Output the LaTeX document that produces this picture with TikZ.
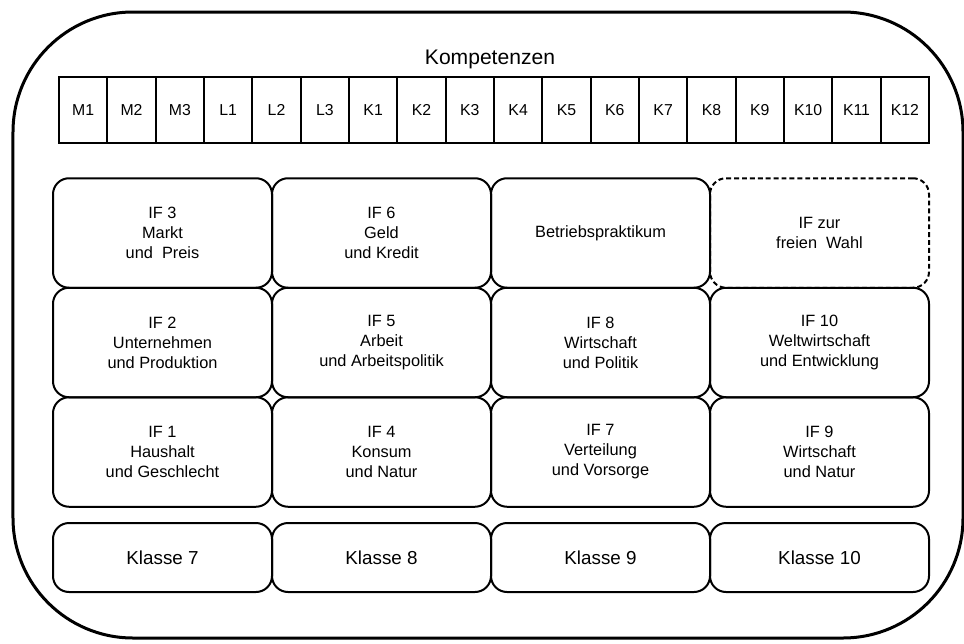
\documentclass[tikz,border=0pt]{standalone}
\usepackage{fontspec}
\setmainfont{Liberation Sans}
\usepackage{tikz}

\begin{document}
\begin{tikzpicture}[
	cell/.style={draw=black, line width=0.04cm, minimum width=0.9667cm,
		minimum height=1.32cm, inner sep=0pt, font=\fontsize{9}{11}\selectfont},
	field/.style={draw=black, line width=0.04cm, rounded corners=0.32cm,
		minimum width=4.38cm, minimum height=2.19cm, align=center,
		font=\fontsize{9.3}{11.4}\selectfont},
	grade/.style={field, minimum height=1.38cm, font=\fontsize{10.7}{13}\selectfont}]
	\useasboundingbox (0,0) rectangle (19.28,12.86);
	% outer frame
	\draw[line width=0.06cm, rounded corners=2.4cm] (0.26,0.10) rectangle (19.26,12.62);
	\node[font=\fontsize{12}{14}\selectfont] (title) at (9.8,11.68) {Kompetenzen};
	% competences
	\node[cell] (m1) at (1.663,10.66) {M1};
	\node[cell] (m2) at (2.630,10.66) {M2};
	\node[cell] (m3) at (3.597,10.66) {M3};
	\node[cell] (l1) at (4.563,10.66) {L1};
	\node[cell] (l2) at (5.530,10.66) {L2};
	\node[cell] (l3) at (6.497,10.66) {L3};
	\node[cell] (k1) at (7.463,10.66) {K1};
	\node[cell] (k2) at (8.430,10.66) {K2};
	\node[cell] (k3) at (9.397,10.66) {K3};
	\node[cell] (k4) at (10.363,10.66) {K4};
	\node[cell] (k5) at (11.330,10.66) {K5};
	\node[cell] (k6) at (12.297,10.66) {K6};
	\node[cell] (k7) at (13.263,10.66) {K7};
	\node[cell] (k8) at (14.230,10.66) {K8};
	\node[cell] (k9) at (15.197,10.66) {K9};
	\node[cell] (k10) at (16.163,10.66) {K10};
	\node[cell] (k11) at (17.130,10.66) {K11};
	\node[cell] (k12) at (18.097,10.66) {K12};
	% fields
	\node[field] (if3) at (3.25,8.20) {IF 3\\Markt\\und~ Preis};
	\node[field] (if6) at (7.63,8.20) {IF 6\\Geld\\und Kredit};
	\node[field] (bp) at (12.01,8.20) {Betriebspraktikum};
	\node[field, dash pattern=on 2.8pt off 1.7pt] (wahl) at (16.39,8.20) {IF zur\\freien~ Wahl};
	\node[field] (if2) at (3.25,6.01) {IF 2\\Unternehmen\\und Produktion};
	\node[field] (if5) at (7.63,6.01) {IF 5\\Arbeit\\und Arbeitspolitik};
	\node[field] (if8) at (12.01,6.01) {IF 8\\Wirtschaft\\und Politik};
	\node[field] (if10) at (16.39,6.01) {IF 10\\Weltwirtschaft\\und Entwicklung};
	\node[field] (if1) at (3.25,3.82) {IF 1\\Haushalt\\und Geschlecht};
	\node[field] (if4) at (7.63,3.82) {IF 4\\Konsum\\und Natur};
	\node[field] (if7) at (12.01,3.82) {IF 7\\Verteilung\\und Vorsorge};
	\node[field] (if9) at (16.39,3.82) {IF 9\\Wirtschaft\\und Natur};
	% grades
	\node[grade] (kl7) at (3.25,1.71) {Klasse 7};
	\node[grade] (kl8) at (7.63,1.71) {Klasse 8};
	\node[grade] (kl9) at (12.01,1.71) {Klasse 9};
	\node[grade] (kl10) at (16.39,1.71) {Klasse 10};
\end{tikzpicture}
\end{document}
